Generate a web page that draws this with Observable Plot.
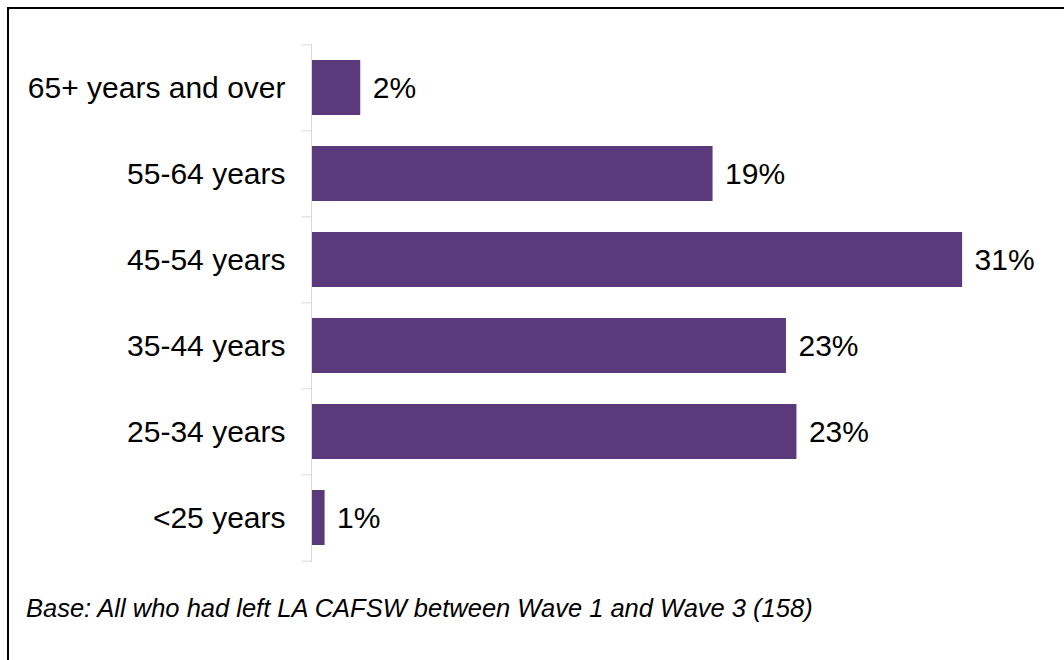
<!DOCTYPE html>
<html>
<head>
<meta charset="utf-8">
<script src="https://cdn.jsdelivr.net/npm/d3@7"></script>
<script src="https://cdn.jsdelivr.net/npm/@observablehq/plot@0.6"></script>
<style>
  html, body { margin: 0; padding: 0; background: #fff; }
  body { width: 1064px; height: 660px; position: relative; overflow: hidden; font-family: Arial, "Liberation Sans", sans-serif; }
  #frame { position: absolute; left: 7px; top: 7px; right: 0; bottom: 0; border-top: 2px solid #000; border-left: 2px solid #000; }
  #chart { position: absolute; left: 0; top: 0; }
  #caption { position: absolute; left: 26px; top: 596px; font-size: 25.5px; font-style: italic; color: #000; line-height: 25px; white-space: nowrap; }
</style>
</head>
<body>
<div id="frame"></div>
<div id="chart"></div>
<div id="caption">Base: All who had left LA CAFSW between Wave 1 and Wave 3 (158)</div>
<script>
const categories = ["65+ years and over", "55-64 years", "45-54 years", "35-44 years", "25-34 years", "<25 years"];
const values = [2.3, 19.1, 31.0, 22.6, 23.1, 0.6];
const valueLabels = ["2%", "19%", "31%", "23%", "23%", "1%"];

const data = categories.map((c, i) => ({ category: c, value: values[i], label: valueLabels[i] }));

const W = 1064, H = 580, mTop = 44, mBottom = 18;
const step = (H - mTop - mBottom) / categories.length;
const barColor = "#5a3a7a";
const axisColor = "#d9d9d9";

const chart = Plot.plot({
  width: W,
  height: H,
  marginTop: mTop,
  marginBottom: mBottom,
  marginLeft: 312,
  marginRight: 18,
  style: { fontFamily: "Arial, 'Liberation Sans', sans-serif", background: "transparent", color: "#000" },
  x: { domain: [0, 35], axis: null },
  y: { domain: categories, paddingInner: 0.36, paddingOuter: 0.18, label: null },
  marks: [
    Plot.barX(data, { x: "value", y: "category", fill: barColor }),
    Plot.text(data, { x: "value", y: "category", text: "label", textAnchor: "start", dx: 12, fontSize: 30, fill: "#000" }),
    Plot.axisY({ tickSize: 0, tickPadding: 27, fontSize: 30, fill: "#000", label: null }),
    Plot.ruleX([0], { stroke: axisColor, strokeWidth: 1, dx: -1 }),
    Plot.ruleY(categories, { y: d => d, x1: -0.45, x2: 0, dx: -1, dy: -step / 2, stroke: axisColor }),
    Plot.ruleY(categories.slice(-1), { y: d => d, x1: -0.45, x2: 0, dx: -1, dy: step / 2, stroke: axisColor })
  ]
});
document.getElementById("chart").appendChild(chart);
</script>
</body>
</html>
